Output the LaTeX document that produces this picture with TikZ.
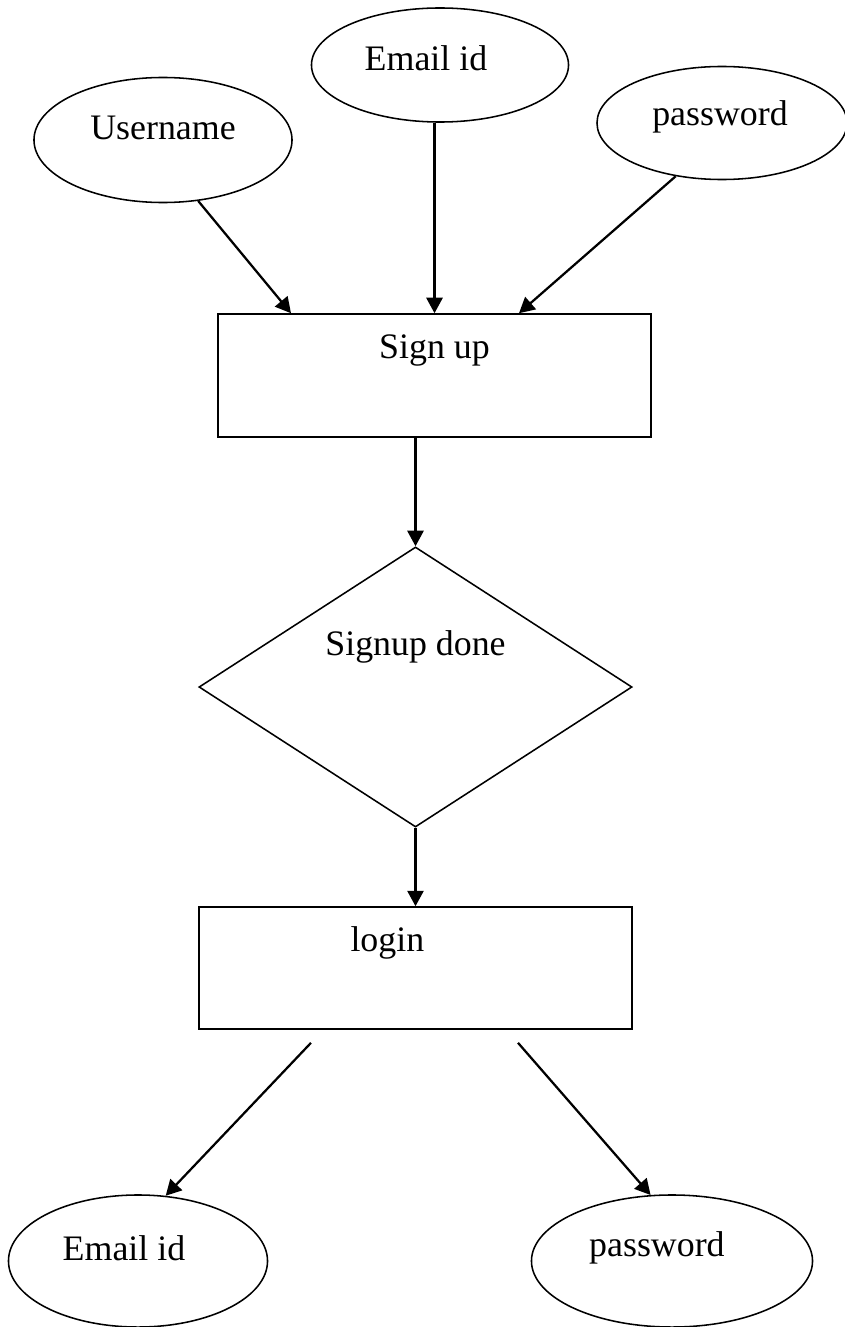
\documentclass[tikz,border=0pt]{standalone}
\usepackage{fontspec}
\setmainfont{Liberation Serif}
\usetikzlibrary{shapes.geometric,arrows.meta,calc}

\begin{document}
\begin{tikzpicture}[x=0.025cm,y=-0.025cm,
    font=\fontsize{25.5}{30}\selectfont,
    attr/.style={draw,ellipse,line width=1.1pt,inner sep=0pt},
    procbox/.style={draw,rectangle,line width=1.1pt,inner sep=0pt,minimum width=10.825cm},
    check/.style={draw,diamond,line width=1.1pt,inner sep=0pt,minimum width=10.825cm,minimum height=7cm},
    flow/.style={-{Triangle[length=11pt,width=11.5pt]},line width=1.6pt}]
\useasboundingbox (0,0) rectangle (845,1327);

% sign up fields
\node[attr,minimum width=6.45cm,minimum height=3.125cm,label={[yshift=8.5pt]center:Username}] (user) at (163,140) {};
\node[attr,minimum width=6.425cm,minimum height=2.85cm,label={[xshift=-10pt,yshift=5pt]center:Email id}] (email1) at (440,65) {};
\node[attr,minimum width=6.25cm,minimum height=2.825cm,label={[xshift=-1.4pt,yshift=4.3pt]center:password}] (pass1) at (722,123) {};

% main flow
\node[procbox,minimum height=3.075cm,label={[yshift=18pt]center:Sign up}] (signup) at (434.5,375.5) {};
\node[check,label={[yshift=28.5pt]center:Signup done}] (done) at (415.5,687) {};
\node[procbox,minimum height=3.05cm,label={[xshift=-20pt,yshift=18pt]center:login}] (login) at (415.5,968) {};

% login fields
\node[attr,minimum width=6.475cm,minimum height=3.3cm,label={[xshift=-10pt,yshift=9.2pt]center:Email id}] (email2) at (138,1261) {};
\node[attr,minimum width=7.025cm,minimum height=3.3cm,label={[xshift=-10.7pt,yshift=9.2pt]center:password}] (pass2) at (672,1261) {};

\draw[flow] (user.-60) -- ($(signup.north)+(-143.5,0)$);
\draw[flow] (signup.north |- email1.south) -- (signup.north);
\draw[flow] (pass1.-131) -- ($(signup.north)+(84.5,0)$);
\draw[flow] (done.north |- signup.south) -- (done.north);
\draw[flow] (done.south) -- (done.south |- login.north);
\draw[flow] ($(login.south)+(-104.5,13)$) -- (email2.67);
\draw[flow] ($(login.south)+(102.5,13)$) -- (pass2.108);
\end{tikzpicture}
\end{document}
